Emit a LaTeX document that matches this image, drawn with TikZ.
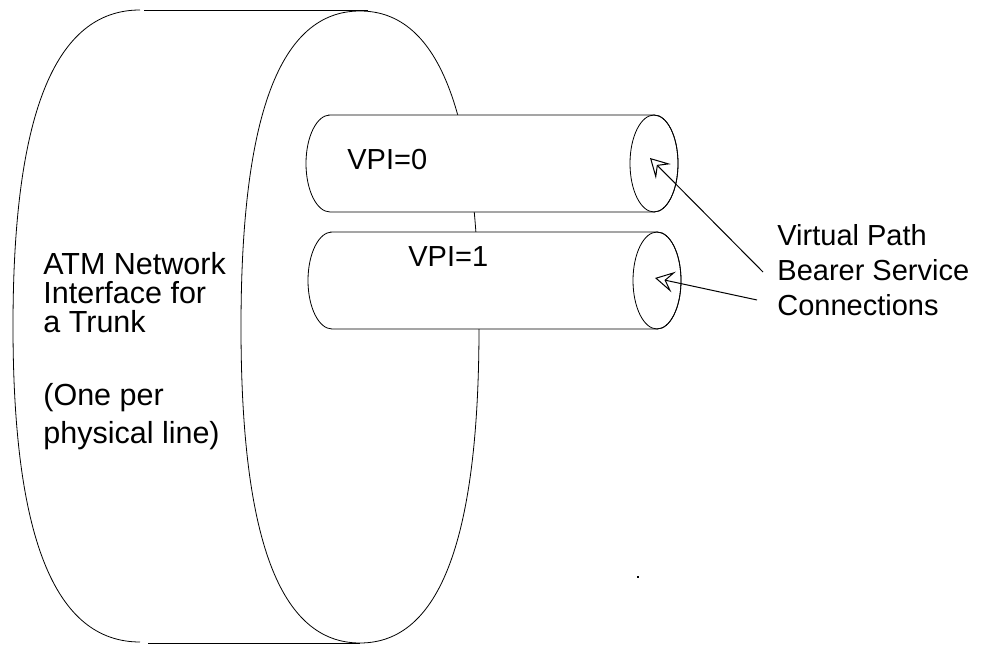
\documentclass[tikz,border=0pt]{standalone}
\usepackage{fontspec}
\setmainfont{Liberation Sans}
\usetikzlibrary{arrows.meta}
\begin{document}
\begin{tikzpicture}[x=1pt,y=1pt,line width=0.8pt,
  lbl/.style={anchor=base west,inner sep=0pt,font=\fontsize{29}{34}\selectfont},
  biglbl/.style={lbl,font=\fontsize{30.5}{34}\selectfont},
  tubebody/.style={draw,fill=white},
  pointer/.style={-{Stealth[length=19pt,width=21pt,inset=8pt,fill=white]},line width=1pt}]
\useasboundingbox (0,0) rectangle (990,645);
% back arc of the disk
\draw (140,635) .. controls (55,635) and (13,531) .. (13,319)
      .. controls (13,107) and (55,3) .. (140,3);
% top and bottom edges
\draw (144,635) -- (368,635);
\draw (148,2) -- (360,2);
% front face of the disk
\draw (360,634) .. controls (440,634) and (479,530) .. (479,318)
      .. controls (479,106) and (440,2) .. (360,2)
      .. controls (280,2) and (241,106) .. (241,318)
      .. controls (241,530) and (280,634) .. (360,634);
% upper tube
\filldraw[tubebody] (328,530) -- (654,530) arc[start angle=90,end angle=-90,x radius=24,y radius=48.5]
  -- (330,433) arc[start angle=270,end angle=90,x radius=24,y radius=48.5] -- cycle;
\draw (654,481.5) ellipse [x radius=24,y radius=48.5];
% lower tube
\filldraw[tubebody] (330,413) -- (657,413) arc[start angle=90,end angle=-90,x radius=24,y radius=48.5]
  -- (332,316) arc[start angle=270,end angle=90,x radius=24,y radius=48.5] -- cycle;
\draw (657,364.5) ellipse [x radius=24,y radius=48.5];
% texts
\node[biglbl] (t1) at (43,370) {ATM Network};
\node[biglbl] (t2) at (43,341) {Interface for};
\node[biglbl] (t3) at (43,312) {a Trunk};
\node[biglbl] (t4) at (43,239) {(One per};
\node[biglbl] (t5) at (43,201) {physical line)};
\node[lbl] (v0) at (347,475) {VPI=0};
\node[lbl] (v1) at (408,378) {VPI=1};
\node[lbl] (r1) at (777,399) {Virtual Path};
\node[lbl] (r2) at (777,364) {Bearer Service};
\node[lbl] (r3) at (777,329) {Connections};
% arrows
\coordinate (tip0) at (650,487);
\coordinate (tail0) at (763,373);
\coordinate (tip1) at (655,367);
\coordinate (tail1) at (757,345);
\draw[pointer] (tail0) -- (tip0);
\draw[pointer] (tail1) -- (tip1);
% speck
\fill (637,67) rectangle (639,69);
\end{tikzpicture}
\end{document}
